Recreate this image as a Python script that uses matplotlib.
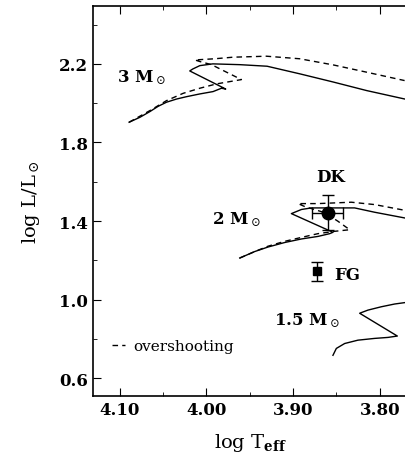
import numpy as np
import matplotlib
matplotlib.use("Agg")
import matplotlib.pyplot as plt
from matplotlib.ticker import MultipleLocator

plt.rcParams["font.family"] = ["DejaVu Serif"]
plt.rcParams["mathtext.fontset"] = "dejavuserif"

# 3 Msun tracks (log Teff, log L), standard and with overshooting
t3_std = [4.0893, 4.0769, 4.0654, 4.0558, 4.0461, 4.0346, 4.0231, 4.0077, 3.9924, 3.9827,
          3.9778, 4.0193, 4.0158, 4.0077, 3.9927, 3.9616, 3.9300, 3.8920, 3.8540, 3.8150, 3.7710]
l3_std = [1.903, 1.928, 1.957, 1.984, 2.005, 2.021, 2.033, 2.047, 2.059, 2.076,
          2.072, 2.164, 2.174, 2.191, 2.200, 2.196, 2.188, 2.149, 2.108, 2.064, 2.021]
t3_ov = [4.0893, 4.0654, 4.0461, 4.0270, 4.0077, 3.9885, 3.9597, 3.9770, 3.9942, 4.0077,
         4.0135, 3.9904, 3.9693, 3.9308, 3.8924, 3.8540, 3.8155, 3.7713]
l3_ov = [1.903, 1.962, 2.013, 2.050, 2.076, 2.098, 2.120, 2.158, 2.196, 2.212,
         2.220, 2.226, 2.234, 2.239, 2.226, 2.195, 2.158, 2.115]

# 2 Msun tracks
t2_std = [3.9616, 3.9443, 3.9290, 3.9097, 3.8904, 3.8713, 3.8578, 3.8540,
          3.9020, 3.8904, 3.8789, 3.8405, 3.8290, 3.8059, 3.7713]
l2_std = [1.212, 1.245, 1.268, 1.291, 1.309, 1.322, 1.336, 1.343,
          1.438, 1.459, 1.467, 1.467, 1.467, 1.445, 1.416]
t2_ov = [3.9616, 3.9443, 3.9290, 3.9097, 3.8904, 3.8713, 3.8520, 3.8347, 3.8482,
         3.8636, 3.8866, 3.8943, 3.8713, 3.8328, 3.8059, 3.7713]
l2_ov = [1.212, 1.245, 1.272, 1.297, 1.317, 1.336, 1.348, 1.356, 1.399,
         1.443, 1.474, 1.489, 1.489, 1.496, 1.484, 1.455]

# 1.5 Msun track
t15 = [3.8540, 3.8501, 3.8405, 3.8252, 3.8059, 3.7905, 3.7797,
       3.8232, 3.8136, 3.7982, 3.7828, 3.7713]
l15 = [0.717, 0.752, 0.777, 0.794, 0.803, 0.808, 0.815,
       0.931, 0.947, 0.964, 0.978, 0.985]

# observed stars
stars = ["DK", "FG"]
star_t = [3.860, 3.873]
star_l = [1.443, 1.144]
star_terr = [0.018, 0.0]
star_lerr = [0.088, 0.050]

fig = plt.figure(figsize=(4.05, 4.6), dpi=100)
ax = fig.add_axes([0.2296, 0.137, 0.815, 0.848])

dash = (0, (4, 3))
ax.plot(t3_std, l3_std, color="black", lw=1.0)
ax.plot(t3_ov, l3_ov, color="black", lw=1.0, ls=dash)
ax.plot(t2_std, l2_std, color="black", lw=1.0)
ax.plot(t2_ov, l2_ov, color="black", lw=1.0, ls=dash)
ax.plot(t15, l15, color="black", lw=1.0)
ax.plot([], [], color="black", lw=1.0, ls=dash, label="overshooting")

ax.errorbar(star_t[0], star_l[0], xerr=star_terr[0], yerr=star_lerr[0], fmt="o",
            color="black", ms=9, capsize=4, elinewidth=1.0, capthick=1.0)
ax.errorbar(star_t[1], star_l[1], yerr=star_lerr[1], fmt="s",
            color="black", ms=6, capsize=4, elinewidth=1.0, capthick=1.0)

ax.text(3.857, 1.625, stars[0], fontsize=12, fontweight="bold", ha="center", va="center")
ax.text(3.852, 1.13, stars[1], fontsize=12, fontweight="bold", ha="left", va="center")
ax.text(4.075, 2.134, r"3 M$_\odot$", fontsize=12, fontweight="bold", ha="center", va="center")
ax.text(3.965, 1.41, r"2 M$_\odot$", fontsize=12, fontweight="bold", ha="center", va="center")
ax.text(3.884, 0.899, r"1.5 M$_\odot$", fontsize=12, fontweight="bold", ha="center", va="center")

ax.legend(loc="lower left", frameon=False, fontsize=11, handlelength=0.9,
          handletextpad=0.5, bbox_to_anchor=(0.015, 0.075))

ax.set_xlim(4.131, 3.75)
ax.set_ylim(0.51, 2.495)
ax.xaxis.set_minor_locator(MultipleLocator(0.05))
ax.yaxis.set_minor_locator(MultipleLocator(0.2))
ax.set_xticks([4.10, 4.00, 3.90, 3.80])
ax.set_xticklabels(["4.10", "4.00", "3.90", "3.80"])
ax.set_yticks([0.6, 1.0, 1.4, 1.8, 2.2])
ax.set_yticklabels(["0.6", "1.0", "1.4", "1.8", "2.2"])
ax.tick_params(which="both", direction="in", top=True, right=True, labelsize=12)
ax.tick_params(which="major", length=6)
ax.tick_params(which="minor", length=3)
for lab in ax.get_xticklabels() + ax.get_yticklabels():
    lab.set_fontweight("bold")
for sp in ax.spines.values():
    sp.set_linewidth(1.2)

ax.set_xlabel(r"log T$_{\mathbf{eff}}$", fontsize=14)
ax.set_ylabel(r"log L/L$_\odot$", fontsize=14)
ax.xaxis.set_label_coords((250 - 93) / 330, -0.09)
ax.yaxis.set_label_coords(-0.155, 0.5)

fig.savefig("out.png", dpi=100)
